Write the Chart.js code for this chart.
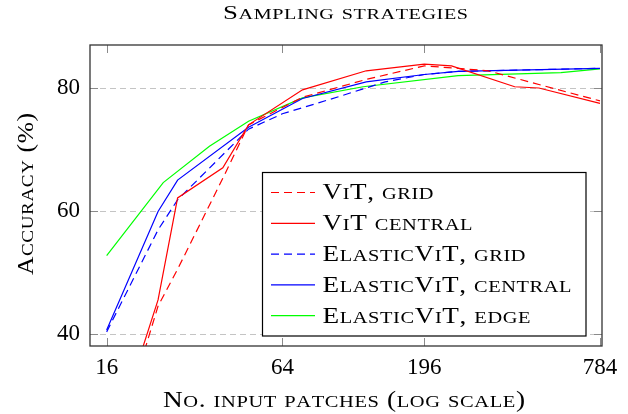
<!DOCTYPE html>
<html>
<head>
<meta charset="utf-8">
<script src="https://cdn.jsdelivr.net/npm/chart.js@4/dist/chart.umd.min.js"></script>
<style>
  html, body { margin: 0; padding: 0; background: #fff; }
  #wrap { width: 628px; height: 414px; position: relative; }
</style>
</head>
<body>
<div id="wrap"><canvas id="samplingChart"></canvas></div>
<script>
// values
const xTicks = [16, 64, 196, 784];
const yTicks = [40, 60, 80];

const vitGridX = [16, 24, 28, 40, 49, 75, 124, 196, 256, 324, 784];
const vitGridY = [17, 44.5, 50.5, 65.3, 74.0, 78.5, 81.4, 83.6, 83.2, 82.8, 77.9];

const vitCentralX = [16, 24, 28, 40, 49, 75, 124, 196, 243, 400, 484, 784];
const vitCentralY = [19.5, 45.5, 62.1, 67.0, 74.0, 79.7, 82.8, 83.9, 83.6, 80.2, 80.0, 77.5];

const evGridX = [16, 24, 28, 49, 64, 100, 144, 196, 256, 784];
const evGridY = [40.3, 56.9, 61.8, 73.3, 75.8, 78.6, 81.0, 82.2, 82.7, 83.2];

const evCentralX = [16, 24, 28, 49, 75, 124, 196, 256, 784];
const evCentralY = [40.6, 59.9, 65.0, 73.6, 78.3, 81.0, 82.2, 82.7, 83.2];

const evEdgeX = [16, 25, 36, 49, 75, 121, 256, 576, 784];
const evEdgeY = [52.7, 64.6, 70.5, 74.6, 78.4, 80.2, 82.0, 82.5, 83.1];

const seriesLabels = ['ViT, grid', 'ViT central', 'ElasticViT, grid', 'ElasticViT, central', 'ElasticViT, edge'];
const seriesColors = ['#ff0000', '#ff0000', '#0000ff', '#0000ff', '#00ff00'];
const seriesDash = [[8, 5], [], [8, 5], [], []];

const FONT = "'Liberation Serif', serif";
const SC = 0.75; // small caps size ratio

function pts(xs, ys) {
    return xs.map(function (x, i) { return { x: x, y: ys[i] }; });
}

// small caps text, letter by letter, widened to the given width
function smallCaps(ctx, text, x, y, size, width, align) {
    const parts = Array.from(text).map(function (ch) {
        const small = ch !== ch.toUpperCase();
        return { ch: small ? ch.toUpperCase() : ch, size: small ? size * SC : size };
    });
    const track = 0.6;
    let natural = 0;
    parts.forEach(function (p) {
        ctx.font = p.size + 'px ' + FONT;
        p.w = ctx.measureText(p.ch).width;
        natural += p.w;
    });
    const sx = width ? (width - track * (parts.length - 1)) / natural : 1;
    const total = natural * sx + track * (parts.length - 1);
    const x0 = align === 'center' ? x - total / 2 : x;
    ctx.save();
    ctx.translate(x0, y);
    ctx.scale(sx, 1);
    ctx.textAlign = 'left';
    ctx.textBaseline = 'alphabetic';
    let cx = 0;
    parts.forEach(function (p) {
        ctx.font = p.size + 'px ' + FONT;
        ctx.fillText(p.ch, cx, 0);
        cx += p.w + track / sx;
    });
    ctx.restore();
}

const decor = {
    id: 'decor',
    beforeDatasetsDraw: function (chart) {
        const ctx = chart.ctx, a = chart.chartArea, ys = chart.scales.y;
        ctx.save();
        ctx.strokeStyle = '#c4c4c4';
        ctx.lineWidth = 1.2;
        ctx.setLineDash([6, 4]);
        yTicks.forEach(function (v) {
            const py = Math.round(ys.getPixelForValue(v)) + 0.5;
            ctx.beginPath();
            ctx.moveTo(a.left, py);
            ctx.lineTo(a.right, py);
            ctx.stroke();
        });
        ctx.restore();
    },
    afterDatasetsDraw: function (chart) {
        const ctx = chart.ctx, a = chart.chartArea;
        const xs = chart.scales.x, ys = chart.scales.y;
        ctx.save();

        // inner tick marks
        ctx.strokeStyle = '#8a8a8a';
        ctx.lineWidth = 1;
        ctx.setLineDash([]);
        const tl = 8;
        xTicks.forEach(function (v) {
            const px = Math.round(xs.getPixelForValue(v)) + 0.5;
            ctx.beginPath();
            ctx.moveTo(px, a.bottom); ctx.lineTo(px, a.bottom - tl);
            ctx.moveTo(px, a.top); ctx.lineTo(px, a.top + tl);
            ctx.stroke();
        });
        yTicks.forEach(function (v) {
            const py = Math.round(ys.getPixelForValue(v)) + 0.5;
            ctx.beginPath();
            ctx.moveTo(a.left, py); ctx.lineTo(a.left + tl, py);
            ctx.moveTo(a.right, py); ctx.lineTo(a.right - tl, py);
            ctx.stroke();
        });

        // frame
        ctx.strokeStyle = '#333';
        ctx.lineWidth = 1.3;
        ctx.strokeRect(a.left, a.top, a.right - a.left, a.bottom - a.top);

        // legend
        const box = { left: 262.5, top: 172.5, right: 586, bottom: 336 };
        ctx.fillStyle = '#fff';
        ctx.fillRect(box.left, box.top, box.right - box.left, box.bottom - box.top);
        ctx.strokeStyle = '#000';
        ctx.lineWidth = 1.2;
        ctx.strokeRect(box.left, box.top, box.right - box.left, box.bottom - box.top);
        const widths = [111, 150, 203, 249, 208];
        seriesLabels.forEach(function (label, i) {
            const ly = 192.5 + i * 30.8;
            ctx.strokeStyle = seriesColors[i];
            ctx.lineWidth = 1.2;
            ctx.setLineDash(seriesDash[i]);
            ctx.beginPath();
            ctx.moveTo(271, ly);
            ctx.lineTo(315, ly);
            ctx.stroke();
            ctx.setLineDash([]);
            ctx.fillStyle = '#000';
            smallCaps(ctx, label, 322.5, ly + 6.8, 23, widths[i], 'left');
        });

        // titles
        ctx.fillStyle = '#000';
        smallCaps(ctx, 'Sampling strategies', 345.5, 18.5, 18.5, 245, 'center');
        smallCaps(ctx, 'No. input patches (log scale)', 344, 406.5, 23, 362, 'center');
        ctx.translate(33, 194);
        ctx.rotate(-Math.PI / 2);
        smallCaps(ctx, 'Accuracy (%)', 0, 0, 23, 162, 'center');
        ctx.restore();
    }
};

const ctx = document.getElementById('samplingChart');
new Chart(ctx, {
    type: 'line',
    data: {
        datasets: seriesLabels.map(function (label, i) {
            const xs = [vitGridX, vitCentralX, evGridX, evCentralX, evEdgeX][i];
            const ys = [vitGridY, vitCentralY, evGridY, evCentralY, evEdgeY][i];
            return { label: label, data: pts(xs, ys), borderColor: seriesColors[i], borderDash: seriesDash[i] };
        })
    },
    options: {
        responsive: true,
        maintainAspectRatio: false,
        animation: false,
        layout: { padding: { left: 0, top: 45, right: 26, bottom: 38 } },
        elements: {
            line: { borderWidth: 1.2, tension: 0, fill: false },
            point: { radius: 0, hoverRadius: 0 }
        },
        plugins: {
            legend: { display: false },
            title: { display: false },
            tooltip: { enabled: false }
        },
        scales: {
            x: {
                type: 'logarithmic',
                min: 14.03,
                max: 796.5,
                grid: { display: false, drawTicks: false },
                border: { display: false },
                afterBuildTicks: function (s) { s.ticks = xTicks.map(function (v) { return { value: v }; }); },
                afterFit: function (s) { s.height = 30; },
                ticks: {
                    padding: 8,
                    autoSkip: false,
                    maxRotation: 0,
                    color: '#000',
                    font: { family: FONT, size: 23 },
                    callback: function (v) { return String(v); }
                }
            },
            y: {
                min: 38,
                max: 87,
                grid: { display: false, drawTicks: false },
                border: { display: false },
                afterBuildTicks: function (s) { s.ticks = yTicks.map(function (v) { return { value: v }; }); },
                afterFit: function (s) { s.width = 90; },
                ticks: {
                    padding: 10,
                    color: '#000',
                    font: { family: FONT, size: 23 },
                    callback: function (v) { return String(v); }
                }
            }
        }
    },
    plugins: [decor]
});
</script>
</body>
</html>
